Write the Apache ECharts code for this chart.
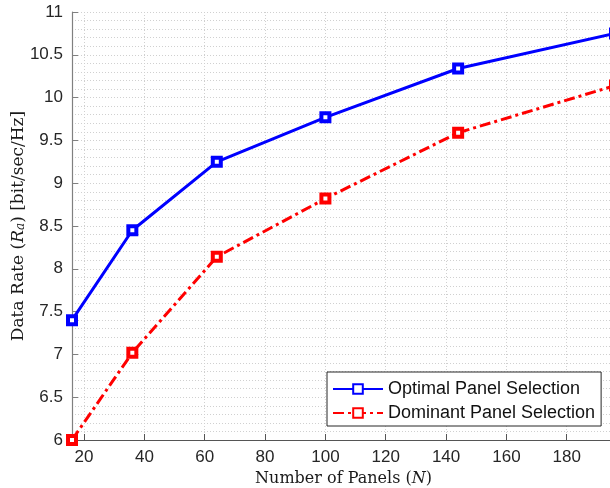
<!DOCTYPE html>
<html>
<head>
<meta charset="utf-8">
<script src="https://cdn.jsdelivr.net/npm/echarts@6/dist/echarts.min.js"></script>
<style>
  html, body { margin: 0; padding: 0; background: #fff; }
  #chart { width: 610px; height: 488px; }
</style>
</head>
<body>
<div id="chart"></div>
<script>
// Number of panels N and the resulting data rate for both selection schemes
const panels = [16, 36, 64, 100, 144, 196];
const optimalRate = [7.40, 8.45, 9.25, 9.77, 10.34, 10.75];
const dominantRate = [6.00, 7.02, 8.14, 8.82, 9.59, 10.14];

const xTickLabels = [20, 40, 60, 80, 100, 120, 140, 160, 180];
const yTickLabels = [6, 6.5, 7, 7.5, 8, 8.5, 9, 9.5, 10, 10.5, 11];

const seriesNames = ['Optimal Panel Selection', 'Dominant Panel Selection'];

const sansFont = '"Liberation Sans", Arial, Helvetica, sans-serif';
const serifFont = '"DejaVu Serif", "Liberation Serif", serif';
const gridDots = { color: '#d0d0d0', width: 1, type: [1, 2] };

const chart = echarts.init(document.getElementById('chart'), null, { renderer: 'canvas' });

chart.setOption({
  animation: false,
  backgroundColor: '#ffffff',
  grid: { left: 72, right: -5, top: 12, bottom: 48, containLabel: false, outerBoundsMode: 'none' },
  xAxis: {
    type: 'value',
    min: 16,
    max: 196,
    interval: 4,
    name: 'Number of Panels ({i|N})',
    nameLocation: 'middle',
    nameGap: 29,
    nameTextStyle: {
      fontFamily: serifFont, fontSize: 16, color: '#1a1a1a',
      rich: { i: { fontFamily: serifFont, fontStyle: 'italic', fontSize: 16, color: '#1a1a1a' } }
    },
    axisLine: { show: true, lineStyle: { color: '#555555', width: 1.2 } },
    axisTick: { show: true, inside: true, length: 6, customValues: xTickLabels,
                lineStyle: { color: '#555555', width: 1 } },
    axisLabel: {
      show: true, margin: 9, fontFamily: sansFont, fontSize: 17, color: '#262626',
      customValues: xTickLabels,
      formatter: v => (xTickLabels.includes(v) ? String(v) : '')
    },
    splitLine: { show: true, lineStyle: gridDots }
  },
  yAxis: {
    type: 'value',
    min: 6,
    max: 11,
    interval: 0.5,
    name: 'Data Rate ({i|R}{s|a}) [bit/sec/Hz]',
    nameLocation: 'middle',
    nameGap: 45,
    nameMoveOverlap: false,
    nameTextStyle: {
      fontFamily: serifFont, fontSize: 17, color: '#1a1a1a',
      rich: {
        i: { fontFamily: serifFont, fontStyle: 'italic', fontSize: 17, color: '#1a1a1a' },
        s: { fontFamily: serifFont, fontStyle: 'italic', fontSize: 12, color: '#1a1a1a', verticalAlign: 'bottom' }
      }
    },
    axisLine: { show: true, lineStyle: { color: '#808080', width: 1.2 } },
    axisTick: { show: true, inside: true, length: 6, lineStyle: { color: '#808080', width: 1 } },
    axisLabel: {
      show: true, margin: 9, fontFamily: sansFont, fontSize: 17, color: '#262626',
      formatter: v => String(v)
    },
    splitLine: { show: true, lineStyle: gridDots },
    minorTick: { show: false, splitNumber: 5 },
    minorSplitLine: { show: true, lineStyle: gridDots }
  },
  legend: {
    orient: 'vertical',
    left: 327,
    top: 372,
    padding: [8, 6, 4, 5],
    itemGap: 6,
    itemWidth: 50,
    itemHeight: 12,
    backgroundColor: '#ffffff',
    borderColor: '#262626',
    borderWidth: 1,
    borderRadius: 0,
    textStyle: { fontFamily: sansFont, fontSize: 18, color: '#111111' },
    data: seriesNames
  },
  series: [
    {
      name: seriesNames[0],
      type: 'line',
      data: panels.map((n, i) => [n, optimalRate[i]]),
      symbol: 'rect',
      symbolSize: 8,
      showAllSymbol: true,
      lineStyle: { color: '#0000ff', width: 3 },
      itemStyle: { color: '#ffffff', borderColor: '#0000ff', borderWidth: 4 },
      emphasis: { disabled: true }
    },
    {
      name: seriesNames[1],
      type: 'line',
      data: panels.map((n, i) => [n, dominantRate[i]]),
      symbol: 'rect',
      symbolSize: 8,
      showAllSymbol: true,
      lineStyle: { color: '#ff0000', width: 3, type: [11, 4, 3, 4] },
      itemStyle: { color: '#ffffff', borderColor: '#ff0000', borderWidth: 4 },
      emphasis: { disabled: true }
    }
  ]
});
</script>
</body>
</html>
